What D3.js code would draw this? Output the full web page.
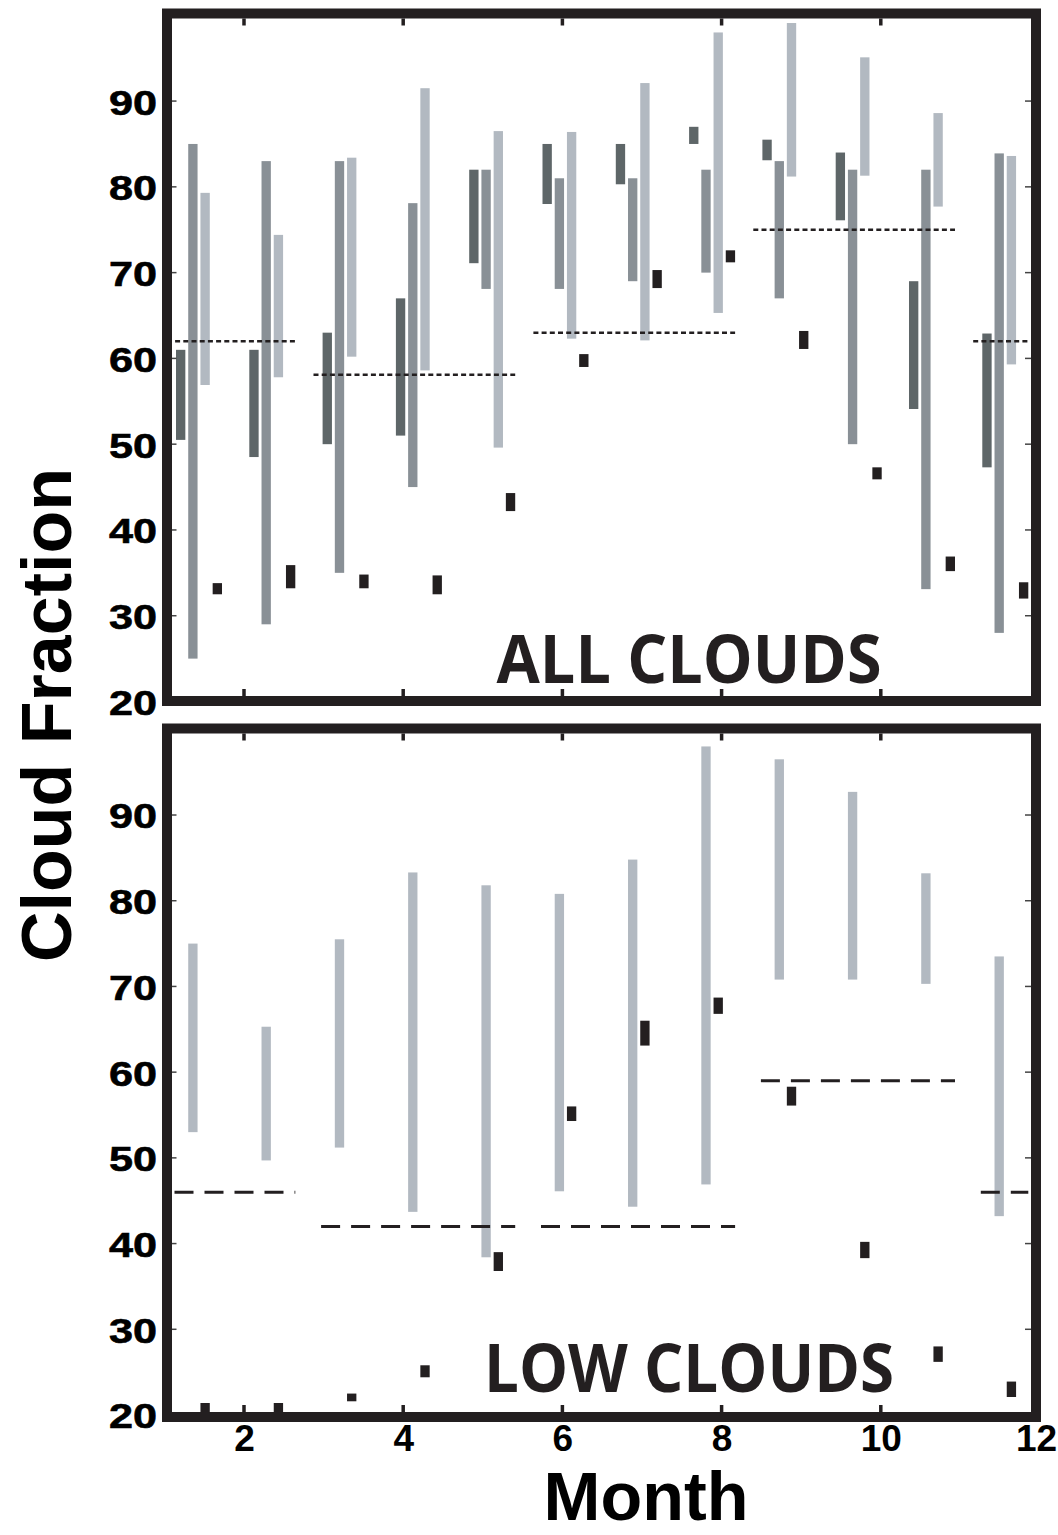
<!DOCTYPE html>
<html>
<head>
<meta charset="utf-8">
<script src="https://cdn.jsdelivr.net/npm/d3@7"></script>
<style>
	body { margin: 0; background: #fff; }
	svg { display: block; }
</style>
</head>
<body>
<div id="chart"></div>
<script>

var months = [1, 2, 3, 4, 5, 6, 7, 8, 9, 10, 11, 12];
var monthTicks = [2, 4, 6, 8, 10, 12];
var yTicks = [20, 30, 40, 50, 60, 70, 80, 90];

// ALL CLOUDS: [low, high] per month
var allDark = [[50.5, 61], [48.5, 61], [50, 63], [51, 67], [71.1, 82], [78, 85],
	[80.3, 85], [85, 87], [83.1, 85.5], [76.1, 84], [54.1, 69], [47.3, 62.9]];
var allMedium = [[25, 85], [29, 83], [35, 83], [45, 78.1], [68.1, 82], [68.1, 81],
	[69, 81], [70, 82], [67, 83], [50, 82], [33.1, 82], [28, 83.9]];
var allLight = [[56.9, 79.3], [57.8, 74.4], [60.2, 83.4], [58.6, 91.5], [49.6, 86.5], [62.3, 86.4],
	[62.1, 92.1], [65.3, 98], [81.2, 99.1], [81.3, 95.1], [77.7, 88.6], [59.3, 83.6]];
var allBlack = [[32.5, 33.8], [33.2, 35.9], [33.2, 34.8], [32.5, 34.7], [42.2, 44.3], [59, 60.5],
	[68.2, 70.3], [71.2, 72.6], [61.1, 63.2], [45.9, 47.3], [35.2, 36.9], [32, 33.9]];
var allMeans = [
	{ from: 1, to: 2, value: 62 },
	{ from: 3, to: 5, value: 58.1 },
	{ from: 6, to: 8, value: 63 },
	{ from: 9, to: 11, value: 75 },
	{ from: 12, to: 12, value: 62 }
];

// LOW CLOUDS
var lowLight = [[53, 75], [49.7, 65.3], [51.2, 75.5], [43.7, 83.3], [38.4, 81.8], [46.1, 80.8],
	[44.3, 84.8], [46.9, 98], [70.8, 96.5], [70.8, 92.7], [70.3, 83.2], [43.2, 73.5]];
var lowBlack = [[19.8, 21.4], [19.8, 21.4], [21.6, 22.5], [24.4, 25.8], [36.8, 39], [54.3, 56],
	[63.1, 66], [66.8, 68.7], [56.1, 58.3], [38.3, 40.2], [26.2, 28], [22.1, 23.9]];
var lowMeans = [
	{ from: 1, to: 2, value: 46 },
	{ from: 3, to: 5, value: 42 },
	{ from: 6, to: 8, value: 42 },
	{ from: 9, to: 11, value: 59 },
	{ from: 12, to: 12, value: 46 }
];

var colors = { dark: "#5e6668", medium: "#899096", light: "#b2b9c1", black: "#231f20" };
var ink = "#231f20";
var axisFont = "'Liberation Sans', Arial, Helvetica, sans-serif";

var svg = d3.select("#chart").append("svg")
	.attr("width", 1058)
	.attr("height", 1535);

var x = d3.scaleLinear().domain([1, 12]).range([164.4, 1040]);

// bar groups sit on their own band, a bit tighter than the month ticks
var group = d3.scaleBand()
	.domain(months)
	.range([176, 1028.3])
	.paddingInner(0.3724)
	.paddingOuter(0);

var slot = d3.scaleBand()
	.domain(["dark", "medium", "light", "black"])
	.range([0, group.bandwidth()])
	.paddingInner(0.236);

var frame = { left: 167, right: 1036, stroke: 10 };

var panels = [
	{
		name: "ALL CLOUDS",
		range: [701.5, 15.3],
		box: [13.5, 701],
		labelY: 683,
		labelLength: 385,
		dash: "5,3.2", dashWidth: 2.5, lead: 9.1,
		series: [
			{ slot: "dark", color: colors.dark, values: allDark },
			{ slot: "medium", color: colors.medium, values: allMedium },
			{ slot: "light", color: colors.light, values: allLight },
			{ slot: "black", color: colors.black, values: allBlack }
		],
		means: allMeans
	},
	{
		name: "LOW CLOUDS",
		range: [1415, 729.3],
		box: [728.5, 1417],
		labelY: 1392,
		labelLength: 410,
		dash: "19,11", dashWidth: 3, lead: 1.5,
		series: [
			{ slot: "medium", color: colors.light, values: lowLight },
			{ slot: "light", color: colors.black, values: lowBlack }
		],
		means: lowMeans
	}
];

panels.forEach(function(p) {

	var y = d3.scaleLinear().domain([20, 100]).range(p.range);
	var g = svg.append("g").attr("class", "panel");

	// bars
	p.series.forEach(function(s) {
		g.selectAll(null)
			.data(s.values)
			.enter().append("rect")
			.attr("x", function(d, i) { return group(months[i]) + slot(s.slot); })
			.attr("width", slot.bandwidth())
			.attr("y", function(d) { return y(d[1]); })
			.attr("height", function(d) { return y(d[0]) - y(d[1]); })
			.attr("fill", s.color);
	});

	// seasonal means
	g.selectAll(null)
		.data(p.means)
		.enter().append("line")
		.attr("x1", function(d) { return group(d.from) - p.lead; })
		.attr("x2", function(d) { return group(d.to) + group.bandwidth(); })
		.attr("y1", function(d) { return y(d.value); })
		.attr("y2", function(d) { return y(d.value); })
		.attr("stroke", ink)
		.attr("stroke-width", p.dashWidth)
		.attr("stroke-dasharray", p.dash);

	// frame
	g.append("rect")
		.attr("x", frame.left)
		.attr("y", p.box[0])
		.attr("width", frame.right - frame.left)
		.attr("height", p.box[1] - p.box[0])
		.attr("fill", "none")
		.attr("stroke", ink)
		.attr("stroke-width", frame.stroke);

	var inTop = p.box[0] + frame.stroke / 2,
		inBottom = p.box[1] - frame.stroke / 2,
		inLeft = frame.left + frame.stroke / 2,
		inRight = frame.right - frame.stroke / 2;

	// month ticks, pointing inward
	[[inTop, inTop + 7], [inBottom, inBottom - 7]].forEach(function(ends) {
		g.selectAll(null)
			.data([2, 4, 6, 8, 10])
			.enter().append("line")
			.attr("x1", function(d) { return x(d); })
			.attr("x2", function(d) { return x(d); })
			.attr("y1", ends[0])
			.attr("y2", ends[1])
			.attr("stroke", ink)
			.attr("stroke-width", 3.5);
	});

	// value ticks on both sides
	[[inLeft, inLeft + 4.5], [inRight, inRight - 6]].forEach(function(ends) {
		g.selectAll(null)
			.data(yTicks.slice(1))
			.enter().append("line")
			.attr("x1", ends[0])
			.attr("x2", ends[1])
			.attr("y1", function(d) { return y(d); })
			.attr("y2", function(d) { return y(d); })
			.attr("stroke", "#444")
			.attr("stroke-width", 1.5);
	});

	// value labels (wide face)
	g.append("g")
		.attr("class", "axis axis--y")
		.attr("transform", "translate(157,0)")
		.call(d3.axisLeft(y).tickValues(yTicks).tickSize(0).tickPadding(0))
		.call(function(a) { a.select(".domain").remove(); })
		.attr("font-family", axisFont)
		.attr("font-size", 36)
		.attr("font-weight", "bold")
		.selectAll("text")
		.attr("x", 0)
		.attr("dy", "0.36em")
		.attr("fill", "#000")
		.attr("stroke", "#000")
		.attr("stroke-width", 0.6)
		.attr("transform", "scale(1.2,1)");

	// panel name
	g.append("text")
		.attr("x", 689)
		.attr("y", p.labelY)
		.attr("text-anchor", "middle")
		.attr("font-family", "'Open Sans', sans-serif")
		.attr("font-weight", "bold")
		.attr("font-size", 66)
		.attr("fill", ink)
		.attr("textLength", p.labelLength)
		.attr("lengthAdjust", "spacingAndGlyphs")
		.text(p.name);
});

// month axis under the lower panel
svg.append("g")
	.attr("class", "axis axis--x")
	.attr("transform", "translate(0,1425)")
	.call(d3.axisBottom(x).tickValues(monthTicks).tickSize(0).tickPadding(0))
	.call(function(a) { a.select(".domain").remove(); })
	.attr("font-family", axisFont)
	.attr("font-size", 37)
	.attr("font-weight", "bold")
	.selectAll("text")
	.attr("fill", "#000")
	.attr("dx", function(d) { return d === 12 ? -4 : 0; });

svg.append("text")
	.attr("x", 646)
	.attr("y", 1520)
	.attr("text-anchor", "middle")
	.attr("font-family", axisFont)
	.attr("font-weight", "bold")
	.attr("font-size", 68)
	.attr("textLength", 205)
	.attr("lengthAdjust", "spacingAndGlyphs")
	.text("Month");

svg.append("text")
	.attr("transform", "translate(71,715) rotate(-90)")
	.attr("text-anchor", "middle")
	.attr("font-family", axisFont)
	.attr("font-weight", "bold")
	.attr("font-size", 70)
	.text("Cloud Fraction");

</script>
</body>
</html>
